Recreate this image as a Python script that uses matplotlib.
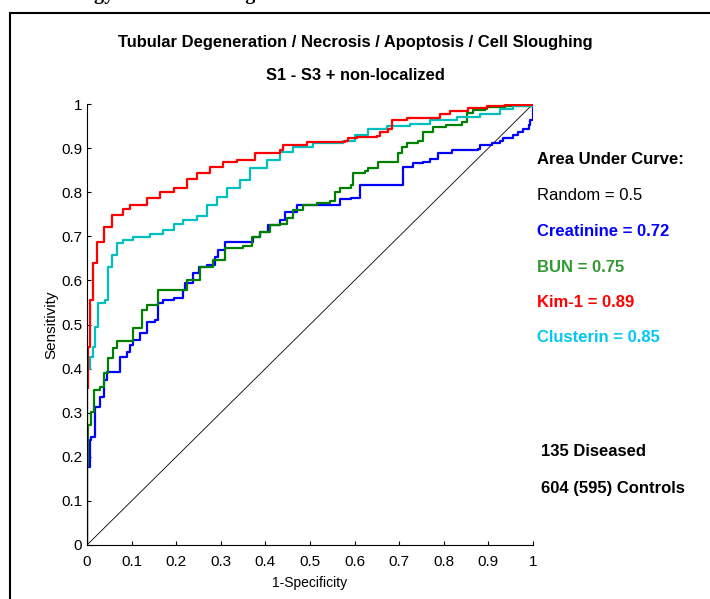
import matplotlib
matplotlib.use('Agg')
import matplotlib.pyplot as plt
from matplotlib.patches import Rectangle

# ROC curves (1-specificity, sensitivity)
kim1_x = [0, 0, 0.003, 0.007, 0.014, 0.022, 0.037, 0.055, 0.081, 0.096, 0.134, 0.164, 0.194,
          0.224, 0.246, 0.276, 0.306, 0.336, 0.377, 0.433, 0.44, 0.493, 0.515, 0.578, 0.586,
          0.605, 0.65, 0.657, 0.676, 0.683, 0.717, 0.791, 0.814, 0.855, 0.896, 0.937, 0.97, 1.0]
kim1_y = [0, 0.356, 0.45, 0.556, 0.64, 0.688, 0.722, 0.748, 0.763, 0.771, 0.786, 0.801, 0.809,
          0.829, 0.843, 0.858, 0.869, 0.873, 0.888, 0.896, 0.907, 0.913, 0.913, 0.915, 0.922,
          0.926, 0.928, 0.937, 0.944, 0.964, 0.969, 0.977, 0.984, 0.992, 0.995, 0.998, 0.998, 1.0]

clu_x = [0, 0, 0.007, 0.014, 0.018, 0.025, 0.04, 0.048, 0.055, 0.067, 0.081, 0.104, 0.141,
         0.171, 0.194, 0.216, 0.246, 0.268, 0.291, 0.313, 0.343, 0.365, 0.403, 0.433, 0.463,
         0.507, 0.575, 0.601, 0.631, 0.672, 0.724, 0.769, 0.829, 0.881, 0.926, 0.956, 1.0]
clu_y = [0, 0.40, 0.427, 0.45, 0.495, 0.548, 0.556, 0.631, 0.658, 0.684, 0.692, 0.699, 0.705,
         0.714, 0.729, 0.737, 0.745, 0.771, 0.79, 0.809, 0.828, 0.854, 0.873, 0.892, 0.903,
         0.911, 0.915, 0.929, 0.944, 0.951, 0.954, 0.964, 0.971, 0.977, 0.989, 0.995, 1.0]

bun_x = [0, 0.0, 0.003, 0.01, 0.016, 0.029, 0.037, 0.048, 0.059, 0.067, 0.096, 0.104, 0.123,
         0.134, 0.16, 0.197, 0.224, 0.25, 0.253, 0.283, 0.309, 0.35, 0.369, 0.388, 0.41, 0.433,
         0.448, 0.463, 0.485, 0.515, 0.545, 0.556, 0.567, 0.593, 0.597, 0.623, 0.631, 0.653,
         0.691, 0.698, 0.706, 0.717, 0.743, 0.754, 0.776, 0.806, 0.84, 0.851, 0.866, 0.892,
         0.896, 0.937, 1.0]
bun_y = [0, 0.18, 0.272, 0.302, 0.351, 0.359, 0.389, 0.423, 0.446, 0.463, 0.463, 0.491, 0.533,
         0.544, 0.578, 0.578, 0.60, 0.60, 0.631, 0.646, 0.673, 0.677, 0.699, 0.71, 0.726, 0.729,
         0.741, 0.76, 0.771, 0.775, 0.779, 0.801, 0.809, 0.816, 0.844, 0.847, 0.854, 0.869,
         0.869, 0.888, 0.903, 0.911, 0.915, 0.937, 0.948, 0.952, 0.96, 0.979, 0.986, 0.989,
         0.994, 0.996, 1.0]

cre_x = [0.003, 0.007, 0.01, 0.018, 0.029, 0.037, 0.044, 0.067, 0.074, 0.089, 0.096, 0.104,
         0.119, 0.134, 0.152, 0.16, 0.171, 0.194, 0.216, 0.22, 0.238, 0.25, 0.268, 0.287,
         0.294, 0.309, 0.365, 0.373, 0.388, 0.406, 0.433, 0.444, 0.47, 0.545, 0.567, 0.593,
         0.612, 0.694, 0.709, 0.732, 0.754, 0.769, 0.788, 0.818, 0.877, 0.881, 0.907, 0.926,
         0.933, 0.956, 0.967, 0.978, 0.99, 0.993, 1.0, 1.0]
cre_y = [0.178, 0.238, 0.245, 0.314, 0.336, 0.374, 0.393, 0.393, 0.427, 0.438, 0.454, 0.465,
         0.48, 0.506, 0.51, 0.548, 0.556, 0.559, 0.578, 0.593, 0.616, 0.631, 0.635, 0.654,
         0.669, 0.688, 0.688, 0.699, 0.71, 0.726, 0.737, 0.756, 0.771, 0.771, 0.784, 0.786,
         0.816, 0.816, 0.858, 0.867, 0.869, 0.876, 0.888, 0.896, 0.899, 0.907, 0.912, 0.915,
         0.922, 0.93, 0.937, 0.944, 0.952, 0.964, 0.98, 1.0]

ticks = [0, 0.1, 0.2, 0.3, 0.4, 0.5, 0.6, 0.7, 0.8, 0.9, 1]
tick_labels = ['0', '0.1', '0.2', '0.3', '0.4', '0.5', '0.6', '0.7', '0.8', '0.9', '1']

auc_lines = ['Random = 0.5', 'Creatinine = 0.72', 'BUN = 0.75', 'Kim-1 = 0.89', 'Clusterin = 0.85']
auc_colors = ['black', '#0000ff', '#339933', '#ff0000', '#00c8f0']
auc_weights = ['normal', 'bold', 'bold', 'bold', 'bold']

plt.rcParams['font.family'] = ['Liberation Sans', 'DejaVu Sans']

fig = plt.figure(figsize=(7.1, 5.99), dpi=100)

# outer frame and the cut-off caption line above it
fig.patches.append(Rectangle((10 / 710, -0.1), 1.0, 1 - 13 / 599 + 0.1, transform=fig.transFigure,
                             fill=False, edgecolor='black', linewidth=1.5))
fig.text(28 / 710, 1 + 1 / 599, 'Pathology Lesion Ranking', family='Liberation Serif',
         fontweight='bold', fontsize=14.5, va='baseline', ha='left')

ax = fig.add_axes([87 / 710, 1 - 545 / 599, 446 / 710, 441 / 599])
ax.plot([0, 1], [0, 1], color='black', linewidth=0.6)
ax.plot(cre_x, cre_y, color='#0000ff', linewidth=1.6, drawstyle='steps-post')
ax.plot(bun_x, bun_y, color='#008000', linewidth=1.6, drawstyle='steps-post')
ax.plot(clu_x, clu_y, color='#00bfbf', linewidth=1.6, drawstyle='steps-post')
ax.plot(kim1_x, kim1_y, color='#ff0000', linewidth=1.6, drawstyle='steps-post')

ax.set_xlim(0, 1)
ax.set_ylim(0, 1)
ax.set_xticks(ticks)
ax.set_xticklabels(tick_labels)
ax.set_yticks(ticks)
ax.set_yticklabels(tick_labels)
ax.tick_params(direction='in', length=3, width=0.8, labelsize=11)
ax.tick_params(axis='x', pad=7)
ax.spines['top'].set_visible(False)
ax.spines['right'].set_visible(False)
ax.set_xlabel('1-Specificity', fontsize=10, labelpad=5)
ax.set_ylabel('Sensitivity', fontsize=11, labelpad=2)

fig.text(355 / 710, 1 - 43 / 599, 'Tubular Degeneration / Necrosis / Apoptosis / Cell Sloughing',
         ha='center', va='center', fontsize=11.9, fontweight='bold')
fig.text(355 / 710, 1 - 75 / 599, 'S1 - S3 + non-localized',
         ha='center', va='center', fontsize=11.9, fontweight='bold')

fig.text(537 / 710, 1 - 160 / 599, 'Area Under Curve:', ha='left', va='center',
         fontsize=12, fontweight='bold')
for i, (s, c, w) in enumerate(zip(auc_lines, auc_colors, auc_weights)):
    fig.text(537 / 710, 1 - (196 + 35.5 * i) / 599, s, ha='left', va='center',
             fontsize=12, fontweight=w, color=c)

fig.text(541 / 710, 1 - 452 / 599, '135 Diseased', ha='left', va='center',
         fontsize=12, fontweight='bold')
fig.text(541 / 710, 1 - 488 / 599, '604 (595) Controls', ha='left', va='center',
         fontsize=12, fontweight='bold')

fig.savefig('out.png', dpi=100)
